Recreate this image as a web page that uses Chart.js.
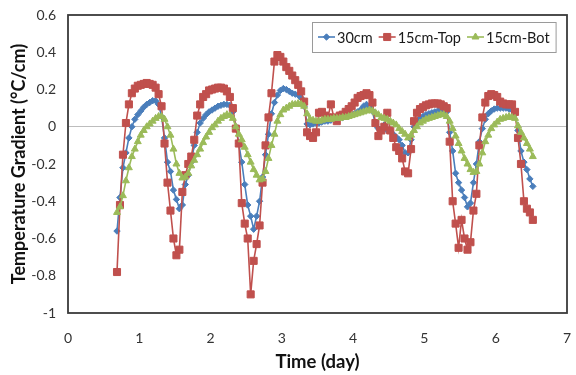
<!DOCTYPE html>
<html><head><meta charset="utf-8">
<script src="https://cdn.jsdelivr.net/npm/chart.js@4.4.0/dist/chart.umd.min.js"></script>
<style>html,body{margin:0;padding:0;background:#fff;}#wrap{width:576px;height:375px;position:relative;}</style>
</head><body><div id="wrap"><canvas id="c" width="576" height="375"></canvas></div>
<script>
// ---- data ----
const seriesNames = ['30cm', '15cm-Top', '15cm-Bot'];
const startDay = 0.6875;      // first sample (day)
const sampleStepDay = 1 / 24; // hourly samples
const xTickValues = [0, 1, 2, 3, 4, 5, 6, 7];
const yTickValues = [-1, -0.8, -0.6, -0.4, -0.2, 0, 0.2, 0.4, 0.6];
const xTitle = 'Time (day)';
const yTitle = 'Temperature Gradient (°C/cm)';

const grad30 = [
 -0.56,-0.38,-0.22,-0.14,-0.06,0.0,0.04,0.065,0.085,0.105,
 0.12,0.13,0.14,0.14,0.12,0.055,-0.06,-0.19,-0.24,-0.34,
 -0.39,-0.44,-0.42,-0.31,-0.26,-0.19,-0.1,-0.03,0.02,0.045,
 0.065,0.08,0.09,0.1,0.11,0.115,0.12,0.12,0.115,0.08,
 0.0,-0.09,-0.19,-0.31,-0.42,-0.48,-0.55,-0.48,-0.4,-0.27,
 -0.15,-0.04,0.07,0.13,0.17,0.195,0.205,0.2,0.19,0.18,
 0.175,0.17,0.155,0.11,0.015,0.01,0.015,0.02,0.02,0.025,
 0.03,0.03,0.035,0.04,0.045,0.05,0.05,0.055,0.06,0.065,
 0.07,0.08,0.09,0.11,0.12,0.11,0.085,0.01,-0.01,-0.015,
 0.01,-0.02,-0.025,-0.04,-0.055,-0.07,-0.1,-0.14,-0.14,-0.07,
 0.0,0.03,0.045,0.055,0.065,0.07,0.075,0.08,0.085,0.09,
 0.09,0.08,-0.03,-0.13,-0.25,-0.3,-0.34,-0.38,-0.43,-0.41,
 -0.3,-0.2,-0.08,-0.01,0.04,0.07,0.085,0.095,0.1,0.1,
 0.1,0.1,0.095,0.09,0.08,-0.02,-0.13,-0.19,-0.23,-0.28,-0.32
];
const grad15Top = [
 -0.78,-0.42,-0.15,0.02,0.12,0.18,0.205,0.22,0.225,0.23,
 0.235,0.23,0.225,0.21,0.175,0.11,-0.09,-0.3,-0.45,-0.6,
 -0.69,-0.66,-0.35,-0.26,-0.2,-0.16,-0.07,0.06,0.12,0.16,
 0.175,0.195,0.2,0.205,0.21,0.21,0.205,0.19,0.16,0.1,
 -0.01,-0.09,-0.41,-0.52,-0.6,-0.9,-0.72,-0.63,-0.53,-0.3,
 -0.1,0.05,0.18,0.35,0.385,0.375,0.35,0.32,0.3,0.275,
 0.25,0.225,0.19,0.135,-0.03,-0.05,-0.06,-0.03,0.075,0.08,
 0.06,0.05,0.12,0.05,0.03,0.06,0.065,0.08,0.095,0.11,
 0.13,0.155,0.165,0.17,0.18,0.17,0.13,0.02,-0.05,-0.02,
 0.0,0.075,-0.02,-0.06,-0.11,-0.13,-0.17,-0.24,-0.25,-0.12,
 0.03,0.075,0.095,0.105,0.115,0.12,0.125,0.125,0.125,0.12,
 0.11,0.1,-0.08,-0.4,-0.52,-0.65,-0.5,-0.6,-0.66,-0.62,
 -0.45,-0.36,-0.1,0.05,0.13,0.165,0.175,0.17,0.16,0.135,
 0.125,0.12,0.12,0.12,0.08,-0.06,-0.2,-0.4,-0.44,-0.46,-0.5
];
const grad15Bot = [
 -0.46,-0.43,-0.37,-0.29,-0.22,-0.16,-0.12,-0.08,-0.045,-0.02,
 0.0,0.015,0.03,0.045,0.055,0.055,0.04,0.0,-0.045,-0.12,
 -0.2,-0.25,-0.275,-0.27,-0.25,-0.21,-0.18,-0.15,-0.12,-0.085,
 -0.055,-0.03,-0.005,0.01,0.03,0.045,0.055,0.065,0.06,0.045,
 0.0,-0.04,-0.07,-0.11,-0.15,-0.19,-0.23,-0.26,-0.285,-0.28,
 -0.24,-0.17,-0.1,-0.04,0.03,0.065,0.09,0.1,0.11,0.12,
 0.12,0.125,0.12,0.11,0.07,0.04,0.035,0.03,0.03,0.035,
 0.04,0.04,0.04,0.045,0.045,0.045,0.05,0.05,0.055,0.06,
 0.065,0.07,0.075,0.08,0.085,0.09,0.085,0.075,0.065,0.05,
 0.045,0.04,0.03,0.02,0.01,-0.01,-0.025,-0.04,-0.06,-0.045,
 -0.02,0.0,0.02,0.03,0.04,0.045,0.05,0.055,0.06,0.065,
 0.065,0.055,0.03,-0.01,-0.05,-0.09,-0.13,-0.17,-0.2,-0.23,
 -0.245,-0.24,-0.2,-0.14,-0.08,-0.045,-0.01,0.01,0.025,0.04,
 0.045,0.05,0.055,0.05,0.045,0.005,-0.03,-0.06,-0.09,-0.12,-0.16
];

// ---- build ----
const sampleDays = grad30.map((_, i) => startDay + i * sampleStepDay);
const toXY = arr => arr.map((v, i) => ({x: sampleDays[i], y: v}));

const FONT = 'Lato, "Open Sans", "Liberation Sans", sans-serif';
const styles = [
  {color: '#4A7EBB', pointStyle: 'rectRot', radius: 3.2, order: 2},
  {color: '#C0504D', pointStyle: 'rect', radius: 5, order: 1},
  {color: '#9BBB59', pointStyle: 'triangle', radius: 4, order: 0}
];
const seriesValues = [grad30, grad15Top, grad15Bot];

const datasets = seriesNames.map((name, k) => ({
  label: name,
  data: toXY(seriesValues[k]),
  borderColor: styles[k].color,
  backgroundColor: styles[k].color,
  pointBackgroundColor: styles[k].color,
  pointBorderColor: styles[k].color,
  pointStyle: styles[k].pointStyle,
  pointRadius: styles[k].radius,
  pointBorderWidth: 1,
  borderWidth: 1.6,
  tension: 0,
  order: styles[k].order,
  clip: false
}));

const framePlugin = {
  id: 'frameLegend',
  afterDatasetsDraw(chart) {
    const {ctx, chartArea: a} = chart;
    ctx.save();
    ctx.strokeStyle = '#3a3a3a';
    ctx.lineWidth = 1.8;
    ctx.strokeRect(a.left, a.top, a.right - a.left, a.bottom - a.top);
    // legend
    ctx.font = '14.5px ' + FONT;
    const sample = 17, gapT = 2, gapItem = 6;
    let x = 318;
    const y = 37;
    const items = chart.data.datasets.map((d, k) => ({d, k, w: ctx.measureText(d.label).width}));
    const boxL = 312, boxT = 22, boxB = 52;
    let total = 0;
    items.forEach((it, idx) => { total += sample + gapT + it.w + (idx < items.length - 1 ? gapItem : 0); });
    const boxR = x + total + 6;
    ctx.fillStyle = '#fff';
    ctx.fillRect(boxL, boxT, boxR - boxL, boxB - boxT);
    ctx.strokeStyle = '#9a9a9a';
    ctx.lineWidth = 1;
    ctx.strokeRect(boxL + 0.5, boxT + 0.5, boxR - boxL, boxB - boxT);
    items.forEach((it) => {
      const st = styles[it.k];
      ctx.strokeStyle = st.color;
      ctx.fillStyle = st.color;
      ctx.lineWidth = 1.6;
      ctx.beginPath();
      ctx.moveTo(x, y); ctx.lineTo(x + sample, y); ctx.stroke();
      ctx.lineWidth = 1;
      Chart.helpers.drawPoint(ctx, {pointStyle: st.pointStyle, radius: st.radius, rotation: 0, borderWidth: 1}, x + sample / 2, y);
      ctx.fillStyle = '#1a1a1a';
      ctx.textBaseline = 'middle';
      ctx.textAlign = 'left';
      ctx.fillText(it.d.label, x + sample + gapT, y + 1);
      x += sample + gapT + it.w + gapItem;
    });
    ctx.restore();
  }
};

const fmt = v => { const n = Math.round(v * 10) / 10; return (Math.abs(n) < 1e-9 ? 0 : n).toString(); };

new Chart(document.getElementById('c'), {
  type: 'line',
  data: {datasets},
  options: {
    responsive: false,
    animation: false,
    devicePixelRatio: 1,
    layout: {autoPadding: false, padding: {top: 15, right: 9, left: 0, bottom: 0}},
    plugins: {legend: {display: false}, tooltip: {enabled: false}},
    scales: {
      x: {
        type: 'linear', min: xTickValues[0], max: xTickValues[xTickValues.length - 1],
        afterBuildTicks: s => { s.ticks = xTickValues.map(v => ({value: v})); },
        afterFit: s => { s.height = 62; s.paddingLeft = 0; s.paddingRight = 0; },
        grid: {display: false, drawTicks: false},
        border: {display: false},
        ticks: {padding: 17, color: '#333', font: {family: FONT, size: 14}, callback: v => fmt(v), maxRotation: 0},
        title: {display: true, text: xTitle, color: '#111', font: {family: FONT, size: 18.5, weight: 'bold'}, padding: {top: 0, bottom: 2}}
      },
      y: {
        type: 'linear', min: yTickValues[0], max: yTickValues[yTickValues.length - 1],
        afterBuildTicks: s => { s.ticks = yTickValues.map(v => ({value: v})); },
        afterFit: s => { s.width = 68; s.paddingTop = 0; s.paddingBottom = 0; },
        grid: {drawTicks: false, lineWidth: 1, color: c => (c.tick && Math.abs(c.tick.value) < 1e-9) ? '#bdbdbd' : 'rgba(0,0,0,0)'},
        border: {display: false},
        ticks: {padding: 12, color: '#333', font: {family: FONT, size: 14}, callback: v => fmt(v)},
        title: {display: true, text: yTitle, color: '#111', font: {family: FONT, size: 18, weight: 'bold'}, padding: {top: 8, bottom: 0}}
      }
    }
  },
  plugins: [framePlugin]
});
</script>
</body></html>
